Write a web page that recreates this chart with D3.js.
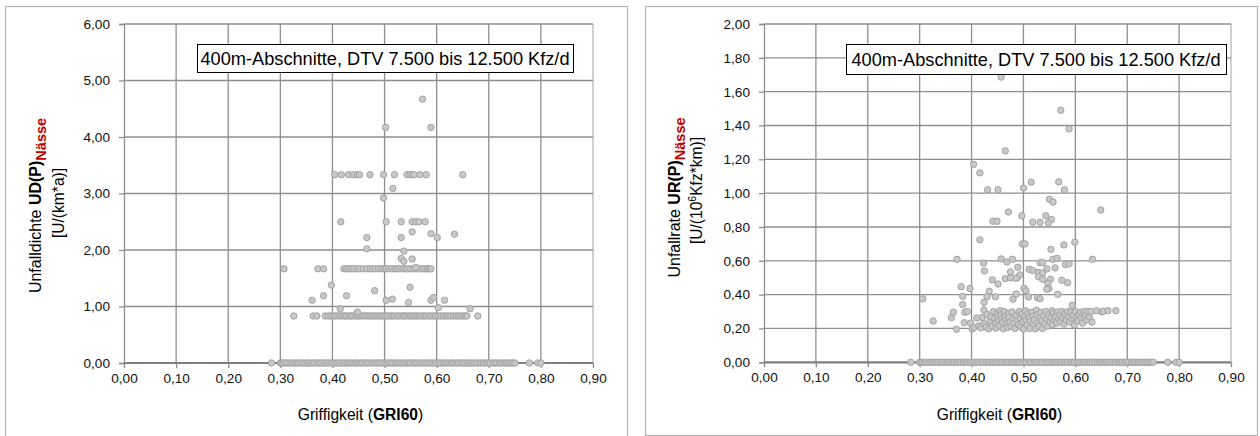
<!DOCTYPE html>
<html>
<head>
<meta charset="utf-8">
<script src="https://cdn.jsdelivr.net/npm/d3@7"></script>
<style>
  html, body { margin: 0; padding: 0; background: #fff; }
  svg { display: block; font-family: "Liberation Sans", Arial, sans-serif; }
</style>
</head>
<body>
<svg id="chart" width="1260" height="436"></svg>
<script>
// Griffigkeit (GRI60) of sections without wet-road accidents (value 0 in both plots)
const griZero = [0.283, 0.300, 0.302, 0.305, 0.309, 0.313, 0.318, 0.322, 0.327, 0.331, 0.335, 0.340,
  0.344, 0.349, 0.353, 0.357, 0.362, 0.366, 0.371, 0.375, 0.379, 0.384, 0.388, 0.392, 0.397, 0.401,
  0.406, 0.410, 0.414, 0.419, 0.423, 0.428, 0.432, 0.436, 0.441, 0.445, 0.449, 0.454, 0.458, 0.463,
  0.467, 0.471, 0.476, 0.480, 0.485, 0.489, 0.493, 0.498, 0.502, 0.506, 0.511, 0.515, 0.520, 0.524,
  0.528, 0.533, 0.537, 0.542, 0.546, 0.550, 0.555, 0.559, 0.563, 0.568, 0.572, 0.577, 0.581, 0.585,
  0.590, 0.594, 0.598, 0.603, 0.607, 0.612, 0.616, 0.620, 0.625, 0.629, 0.633, 0.638, 0.642, 0.647,
  0.651, 0.655, 0.660, 0.664, 0.668, 0.673, 0.677, 0.682, 0.686, 0.690, 0.695, 0.699, 0.703, 0.708,
  0.712, 0.716, 0.721, 0.725, 0.730, 0.734, 0.738, 0.742, 0.746, 0.750, 0.778, 0.794, 0.800];

// Unfalldichte: sections with one wet accident (0,83 U/(km*a))
const griUdOne = [0.326, 0.363, 0.370, 0.386, 0.392, 0.397, 0.401, 0.405, 0.410, 0.414, 0.419, 0.423,
  0.427, 0.432, 0.436, 0.440, 0.445, 0.449, 0.453, 0.458, 0.462, 0.467, 0.471, 0.475, 0.480, 0.484,
  0.489, 0.493, 0.497, 0.502, 0.506, 0.511, 0.515, 0.519, 0.524, 0.528, 0.533, 0.537, 0.541, 0.546,
  0.550, 0.554, 0.559, 0.563, 0.567, 0.572, 0.576, 0.580, 0.585, 0.589, 0.594, 0.598, 0.603, 0.608,
  0.613, 0.618, 0.622, 0.627, 0.632, 0.637, 0.641, 0.646, 0.651, 0.655, 0.658, 0.679];
// Unfalldichte: two wet accidents (1,67)
const griUdTwo = [0.307, 0.372, 0.383, 0.422, 0.427, 0.431, 0.436, 0.441, 0.447, 0.452, 0.459, 0.466,
  0.472, 0.477, 0.482, 0.488, 0.494, 0.499, 0.503, 0.508, 0.514, 0.520, 0.524, 0.529, 0.535, 0.540,
  0.544, 0.550, 0.556, 0.561, 0.566, 0.572, 0.577, 0.582, 0.586, 0.589];
// Unfalldichte: four wet accidents (3,33)
const griUdFour = [0.404, 0.417, 0.431, 0.440, 0.448, 0.452, 0.472, 0.498, 0.519, 0.543, 0.549,
  0.553, 0.557, 0.568, 0.580, 0.650];
// Unfalldichte: remaining sections [GRI60, UD]
const udOther = [
  [0.573, 4.67], [0.502, 4.17], [0.589, 4.17], [0.516, 3.09], [0.498, 2.92],
  [0.416, 2.50], [0.503, 2.50], [0.532, 2.50], [0.553, 2.50], [0.560, 2.50], [0.566, 2.50], [0.578, 2.50],
  [0.553, 2.32], [0.589, 2.29], [0.601, 2.22], [0.634, 2.28], [0.466, 2.22], [0.466, 2.02],
  [0.532, 2.22], [0.537, 1.98], [0.532, 1.85], [0.537, 1.80], [0.553, 1.84], [0.560, 1.69],
  [0.398, 1.38], [0.481, 1.28], [0.549, 1.34], [0.361, 1.11], [0.383, 1.19], [0.427, 1.19],
  [0.503, 1.11], [0.515, 1.13], [0.546, 1.07], [0.589, 1.11], [0.594, 1.16], [0.615, 1.11],
  [0.415, 0.96], [0.448, 0.90], [0.603, 0.98], [0.664, 0.96]];

// Unfallrate [GRI60, UR]
const urPoints = [
  [0.457, 1.686], [0.572, 1.49], [0.588, 1.38], [0.465, 1.25], [0.404, 1.17], [0.416, 1.12],
  [0.431, 1.02], [0.451, 1.02], [0.500, 1.03], [0.515, 1.065], [0.568, 1.067], [0.579, 1.02],
  [0.550, 0.964], [0.557, 0.947], [0.649, 0.90], [0.471, 0.889], [0.497, 0.866], [0.441, 0.834],
  [0.449, 0.834], [0.518, 0.828], [0.532, 0.828], [0.543, 0.866], [0.554, 0.844], [0.548, 0.824],
  [0.416, 0.724], [0.498, 0.70], [0.503, 0.70], [0.599, 0.71], [0.578, 0.694], [0.553, 0.668],
  [0.372, 0.609], [0.457, 0.611], [0.468, 0.593], [0.479, 0.609], [0.633, 0.609], [0.423, 0.587],
  [0.532, 0.589], [0.537, 0.589], [0.557, 0.609], [0.565, 0.615], [0.581, 0.578], [0.588, 0.582],
  [0.425, 0.540], [0.489, 0.562], [0.475, 0.534], [0.511, 0.550], [0.518, 0.542], [0.545, 0.552],
  [0.561, 0.558], [0.529, 0.532], [0.537, 0.527], [0.488, 0.500], [0.493, 0.517], [0.485, 0.497],
  [0.465, 0.495], [0.475, 0.499], [0.440, 0.487], [0.451, 0.463], [0.552, 0.491], [0.547, 0.467],
  [0.574, 0.485], [0.585, 0.471], [0.529, 0.506], [0.537, 0.491], [0.380, 0.447], [0.397, 0.436],
  [0.501, 0.438], [0.505, 0.422], [0.549, 0.436], [0.545, 0.432], [0.434, 0.420], [0.486, 0.404],
  [0.566, 0.402], [0.383, 0.390], [0.430, 0.388], [0.446, 0.388], [0.510, 0.386], [0.527, 0.382],
  [0.532, 0.376], [0.480, 0.373], [0.306, 0.375], [0.383, 0.341], [0.424, 0.355], [0.594, 0.337],
  [0.361, 0.264], [0.365, 0.296], [0.326, 0.244], [0.371, 0.195], [0.387, 0.296], [0.386, 0.234],
  [0.424, 0.310], [0.392, 0.300], [0.398, 0.232], [0.401, 0.197], [0.405, 0.205], [0.410, 0.262],
  [0.414, 0.215], [0.418, 0.204], [0.421, 0.265], [0.424, 0.228], [0.428, 0.208], [0.430, 0.283],
  [0.433, 0.198], [0.436, 0.245], [0.438, 0.271], [0.440, 0.215], [0.442, 0.300], [0.444, 0.258],
  [0.446, 0.232], [0.447, 0.202], [0.449, 0.290], [0.451, 0.268], [0.452, 0.245], [0.454, 0.215],
  [0.455, 0.305], [0.457, 0.283], [0.458, 0.258], [0.460, 0.236], [0.461, 0.198], [0.463, 0.300],
  [0.464, 0.272], [0.466, 0.250], [0.468, 0.226], [0.469, 0.205], [0.471, 0.290], [0.472, 0.265],
  [0.474, 0.240], [0.476, 0.212], [0.478, 0.298], [0.480, 0.257], [0.482, 0.230], [0.484, 0.200],
  [0.486, 0.276], [0.488, 0.248], [0.490, 0.222], [0.492, 0.300], [0.494, 0.262], [0.495, 0.210],
  [0.497, 0.285], [0.499, 0.238], [0.500, 0.196], [0.502, 0.270], [0.504, 0.305], [0.505, 0.250],
  [0.507, 0.220], [0.509, 0.288], [0.511, 0.264], [0.512, 0.200], [0.514, 0.242], [0.516, 0.296],
  [0.518, 0.272], [0.519, 0.226], [0.521, 0.252], [0.523, 0.198], [0.525, 0.308], [0.527, 0.280],
  [0.528, 0.235], [0.530, 0.212], [0.532, 0.262], [0.534, 0.295], [0.536, 0.246], [0.537, 0.200],
  [0.539, 0.275], [0.541, 0.228], [0.543, 0.300], [0.545, 0.255], [0.547, 0.214], [0.549, 0.283],
  [0.551, 0.240], [0.553, 0.265], [0.555, 0.305], [0.556, 0.222], [0.558, 0.290], [0.560, 0.250],
  [0.562, 0.270], [0.564, 0.232], [0.566, 0.298], [0.568, 0.258], [0.570, 0.280], [0.572, 0.240],
  [0.574, 0.300], [0.576, 0.262], [0.578, 0.226], [0.580, 0.287], [0.582, 0.250], [0.585, 0.300],
  [0.587, 0.272], [0.589, 0.238], [0.591, 0.296], [0.593, 0.260], [0.596, 0.278], [0.598, 0.220],
  [0.600, 0.300], [0.603, 0.265], [0.605, 0.245], [0.607, 0.284], [0.610, 0.296], [0.612, 0.258],
  [0.614, 0.232], [0.617, 0.300], [0.619, 0.275], [0.622, 0.250], [0.624, 0.300], [0.627, 0.268],
  [0.630, 0.300], [0.632, 0.238], [0.641, 0.305], [0.651, 0.298], [0.654, 0.302], [0.663, 0.305],
  [0.678, 0.305]];

const xTicks = [0, 0.1, 0.2, 0.3, 0.4, 0.5, 0.6, 0.7, 0.8, 0.9];
const udTicks = [0, 1, 2, 3, 4, 5, 6];
const urTicks = [0, 0.2, 0.4, 0.6, 0.8, 1.0, 1.2, 1.4, 1.6, 1.8, 2.0];
const boxText = "400m-Abschnitte, DTV 7.500 bis 12.500 Kfz/d";
const xTitle = ["Griffigkeit (", "GRI60", ")"];

const de = d3.formatLocale({ decimal: ",", thousands: ".", grouping: [3], currency: ["", " €"] });
const fmt = de.format(".2f");

const svg = d3.select("#chart");

function drawPanel(cfg) {
  const g = svg.append("g");
  // panel frame
  g.append("rect").attr("x", cfg.frame[0] + 0.5).attr("y", cfg.frame[1] + 0.5)
    .attr("width", cfg.frame[2]).attr("height", cfg.frame[3])
    .attr("fill", "#fff").attr("stroke", "#b4b4b4").attr("stroke-width", 1.2);

  const x = d3.scaleLinear().domain([0, 0.9]).range([cfg.left, cfg.right]);
  const y = d3.scaleLinear().domain([0, cfg.yMax]).range([cfg.bottom, cfg.top]);

  // grid
  g.append("g").selectAll("line.v").data(xTicks.slice(1)).join("line")
    .attr("x1", d => x(d)).attr("x2", d => x(d)).attr("y1", cfg.top).attr("y2", cfg.bottom)
    .attr("stroke", (d, i) => i === xTicks.length - 2 ? "#b9b9b9" : "#8f8f8f").attr("stroke-width", 1.3);
  g.append("g").selectAll("line.h").data(cfg.yTicks.slice(1)).join("line")
    .attr("x1", cfg.left).attr("x2", cfg.right).attr("y1", d => y(d)).attr("y2", d => y(d))
    .attr("stroke", "#8f8f8f").attr("stroke-width", 1.3);

  // axes
  const xa = g.append("g").attr("transform", `translate(0,${cfg.bottom})`)
    .call(d3.axisBottom(x).tickValues(xTicks).tickFormat(fmt).tickSize(5).tickPadding(5));
  const ya = g.append("g").attr("transform", `translate(${cfg.left},0)`)
    .call(d3.axisLeft(y).tickValues(cfg.yTicks).tickFormat(fmt).tickSize(5).tickPadding(9));
  [xa, ya].forEach(a => {
    a.selectAll("text").attr("font-size", 13.6).attr("fill", "#111")
      .attr("font-family", "'Liberation Sans', Arial, sans-serif");
    a.selectAll(".tick line").attr("stroke", "#8f8f8f").attr("stroke-width", 1.3);
  });
  ya.select(".domain").attr("stroke", "#8f8f8f").attr("stroke-width", 1.3);
  xa.select(".domain").remove();
  g.append("line").attr("x1", cfg.left).attr("x2", cfg.right)
    .attr("y1", cfg.bottom).attr("y2", cfg.bottom)
    .attr("stroke", "#7f7f7f").attr("stroke-width", 2.2);

  // scatter points
  const pts = g.append("g").attr("fill", "#c8c8c8").attr("stroke", "#a3a3a3").attr("stroke-width", 1);
  pts.selectAll("circle").data(cfg.points).join("circle")
    .attr("cx", d => x(d[0])).attr("cy", d => y(d[1])).attr("r", 3.2);

  // info box
  const bx = g.append("g");
  bx.append("rect").attr("x", cfg.box[0] + 0.5).attr("y", cfg.box[1] + 0.5)
    .attr("width", cfg.box[2]).attr("height", cfg.box[3])
    .attr("fill", "#fff").attr("stroke", "#000").attr("stroke-width", 1);
  bx.append("text").attr("x", cfg.box[0] + cfg.box[2] / 2).attr("y", cfg.box[1] + cfg.box[3] / 2 + 6.5)
    .attr("text-anchor", "middle").attr("font-size", 18.2).attr("fill", "#000").text(boxText);

  // x title
  const xt = g.append("text").attr("x", (cfg.left + cfg.right) / 2 + 2).attr("y", 420)
    .attr("text-anchor", "middle").attr("font-size", 15.6).attr("fill", "#000");
  xt.append("tspan").text(xTitle[0]);
  xt.append("tspan").attr("font-weight", "bold").text(xTitle[1]);
  xt.append("tspan").text(xTitle[2]);

  // y title, two rotated lines
  const t1 = g.append("text").attr("transform", `translate(${cfg.yt1[0]},${cfg.yt1[1]}) rotate(-90)`)
    .attr("text-anchor", "middle").attr("font-size", 16).attr("fill", "#000");
  t1.append("tspan").text(cfg.yLabel[0]);
  t1.append("tspan").attr("font-weight", "bold").text(cfg.yLabel[1]);
  t1.append("tspan").attr("font-weight", "bold").attr("fill", "#c00000")
    .attr("font-size", 14.5).attr("dy", 5).text(cfg.yLabel[2]);
  const t2 = g.append("text").attr("transform", `translate(${cfg.yt2[0]},${cfg.yt2[1]}) rotate(-90)`)
    .attr("text-anchor", "middle").attr("font-size", 15.6).attr("fill", "#000");
  cfg.unit.forEach(u => {
    const s = t2.append("tspan").text(u.t);
    if (u.sup) s.attr("font-size", 10.5).attr("dy", -6);
    if (u.back) s.attr("dy", 6);
  });
}

const zeroPairs = griZero.map(v => [v, 0]);

drawPanel({
  frame: [5, 6, 622, 440],
  left: 124, right: 593, top: 24, bottom: 363, yMax: 6, yTicks: udTicks,
  points: zeroPairs
    .concat(griUdOne.map(v => [v, 0.833]))
    .concat(griUdTwo.map(v => [v, 1.667]))
    .concat(griUdFour.map(v => [v, 3.333]))
    .concat(udOther),
  box: [197, 44, 376, 28],
  yLabel: ["Unfalldichte ", "UD(P)", "Nässe"],
  yt1: [40.5, 205.5], yt2: [63.5, 203],
  unit: [{ t: "[U/(km*a)]" }]
});

drawPanel({
  frame: [645, 6, 612, 429],
  left: 764, right: 1231, top: 24, bottom: 362.3, yMax: 2, yTicks: urTicks,
  points: zeroPairs.concat(urPoints),
  box: [846, 44, 380, 30],
  yLabel: ["Unfallrate ", "UR(P)", "Nässe"],
  yt1: [680, 197.5], yt2: [702, 190.5],
  unit: [{ t: "[U/(10" }, { t: "6", sup: true }, { t: "Kfz*km)]", back: true }]
});
</script>
</body>
</html>
